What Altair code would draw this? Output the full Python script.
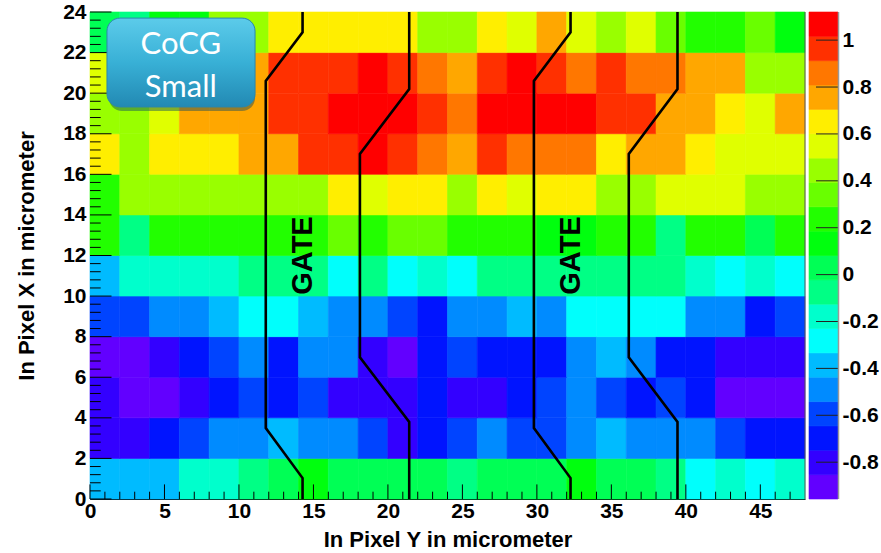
import altair as alt
import pandas as pd

# ---------------- data ----------------
# 24 columns (In Pixel Y, 2 µm wide) x 12 rows (In Pixel X, 2 µm high)
z_y00 = [-0.39, -0.39, -0.39, -0.18, -0.18, -0.07, 0.03, 0.13, 0.03, 0.03, 0.03, 0.03,
         -0.07, 0.03, 0.03, 0.03, 0.13, 0.03, 0.03, -0.07, -0.28, -0.18, -0.28, -0.18]
z_y02 = [-0.80, -0.80, -0.70, -0.59, -0.49, -0.49, -0.39, -0.49, -0.49, -0.59, -0.80, -0.70,
         -0.59, -0.49, -0.59, -0.59, -0.49, -0.39, -0.49, -0.49, -0.49, -0.59, -0.70, -0.70]
z_y04 = [-0.80, -0.90, -0.90, -0.80, -0.70, -0.59, -0.70, -0.59, -0.80, -0.80, -0.80, -0.70,
         -0.80, -0.80, -0.70, -0.59, -0.49, -0.59, -0.70, -0.59, -0.70, -0.90, -0.90, -0.90]
z_y06 = [-0.90, -0.90, -0.80, -0.70, -0.59, -0.49, -0.70, -0.49, -0.49, -0.80, -0.90, -0.70,
         -0.59, -0.70, -0.70, -0.70, -0.49, -0.39, -0.49, -0.70, -0.70, -0.80, -0.80, -0.80]
z_y08 = [-0.59, -0.59, -0.49, -0.49, -0.39, -0.28, -0.28, -0.39, -0.49, -0.49, -0.59, -0.70,
         -0.49, -0.49, -0.39, -0.49, -0.28, -0.28, -0.28, -0.28, -0.49, -0.49, -0.70, -0.59]
z_y10 = [-0.39, -0.18, -0.18, -0.18, -0.18, -0.07, -0.07, -0.07, -0.28, -0.07, -0.28, -0.18,
         -0.28, -0.07, -0.07, -0.07, -0.07, -0.07, -0.07, -0.07, -0.18, -0.28, -0.18, -0.28]
z_y12 = [0.24, -0.07, 0.24, 0.24, 0.24, 0.24, 0.24, 0.24, 0.34, 0.24, 0.34, 0.34,
         0.24, 0.24, 0.24, 0.13, 0.13, 0.24, 0.24, -0.07, 0.24, 0.24, 0.03, 0.24]
z_y14 = [0.24, 0.44, 0.44, 0.44, 0.44, 0.44, 0.44, 0.44, 0.65, 0.55, 0.65, 0.65,
         0.44, 0.65, 0.55, 0.65, 0.65, 0.44, 0.44, 0.55, 0.55, 0.55, 0.44, 0.44]
z_y16 = [0.65, 0.44, 0.65, 0.65, 0.65, 0.76, 0.76, 0.96, 0.96, 1.07, 0.96, 0.86,
         0.76, 0.96, 0.86, 0.86, 0.86, 0.65, 0.76, 0.76, 0.65, 0.55, 0.55, 0.55]
z_y18 = [0.44, 0.44, 0.55, 0.76, 0.76, 0.76, 0.96, 0.96, 1.07, 1.07, 1.07, 0.96,
         0.86, 1.07, 1.07, 1.07, 1.07, 0.96, 0.96, 0.76, 0.76, 0.65, 0.55, 0.76]
z_y20 = [0.55, 0.55, 0.55, 0.65, 0.76, 0.76, 0.96, 0.96, 0.96, 1.07, 0.96, 0.86,
         0.76, 0.96, 1.07, 0.96, 0.86, 0.96, 0.86, 0.86, 0.76, 0.76, 0.44, 0.44]
z_y22 = [0.03, -0.07, 0.13, 0.13, 0.44, 0.44, 0.65, 0.65, 0.65, 0.65, 0.65, 0.44,
         0.44, 0.65, 0.55, 0.76, 0.55, 0.44, 0.55, 0.34, 0.24, 0.24, 0.34, 0.13]
z_rows = [z_y00, z_y02, z_y04, z_y06, z_y08, z_y10,
          z_y12, z_y14, z_y16, z_y18, z_y20, z_y22]

cell_size = 2.0
z_min, z_max = -0.957, 1.12
palette = ["#6200ff", "#3300ff", "#0014ff", "#0044ff", "#008bff", "#00bbff",
           "#00fffc", "#00ffcc", "#00ff85", "#00ff55", "#00ff0e", "#22ff00",
           "#69ff00", "#99ff00", "#e0ff00", "#ffee00", "#ffa700", "#ff7700",
           "#ff3000", "#ff0000"]
cbar_ticks = [-0.8, -0.6, -0.4, -0.2, 0.0, 0.2, 0.4, 0.6, 0.8, 1.0]

x_major = [0, 5, 10, 15, 20, 25, 30, 35, 40, 45]
x_minor = [k for k in range(1, 48) if k % 5]
y_major = [0, 2, 4, 6, 8, 10, 12, 14, 16, 18, 20, 22, 24]
y_minor = [round(k * 0.4, 1) for k in range(1, 60) if k % 5]

# gate outlines (µm): each list is one polyline, bottom to top
gate1_left_x = [14.27, 14.27, 11.8, 11.8, 14.27, 14.27]
gate1_left_y = [0, 1.03, 3.5, 20.6, 23.0, 24]
gate1_right_x = [21.43, 21.43, 18.12, 18.12, 21.43, 21.43]
gate1_right_y = [0, 3.8, 6.98, 17.0, 20.2, 24]
gate2_left_x = [32.26, 32.26, 29.8, 29.8, 32.26, 32.26]
gate2_left_y = [0, 1.03, 3.5, 20.6, 23.0, 24]
gate2_right_x = [39.44, 39.44, 36.17, 36.17, 39.44, 39.44]
gate2_right_y = [0, 3.8, 6.98, 17.0, 20.2, 24]

gate_label_x = [14.27, 32.3]
gate_label_y = [12.0, 12.0]

box_x = [1.14, 11.08]
box_y = [19.32, 23.7]
box_text = ["CoCG", "Small"]
box_text_x = [6.1, 6.1]
box_text_y = [22.38, 20.26]

# ---------------- tables ----------------
cells = []
for r, row in enumerate(z_rows):
    for c, z in enumerate(row):
        cells.append({"x0": c * cell_size, "x1": (c + 1) * cell_size,
                      "y0": r * cell_size, "y1": (r + 1) * cell_size, "z": z})
df_cells = pd.DataFrame(cells)

gate_rows = []
for gid, (gx, gy) in enumerate([(gate1_left_x, gate1_left_y), (gate1_right_x, gate1_right_y),
                                 (gate2_left_x, gate2_left_y), (gate2_right_x, gate2_right_y)]):
    for i, (a, b) in enumerate(zip(gx, gy)):
        gate_rows.append({"gid": gid, "o": i, "x0": a, "y0": b})
df_gates = pd.DataFrame(gate_rows)

n_lev = len(palette)
step = (z_max - z_min) / n_lev
df_bands = pd.DataFrame({"lo": [z_min + i * step for i in range(n_lev)],
                         "hi": [z_min + (i + 1) * step for i in range(n_lev)],
                         "mid": [z_min + (i + 0.5) * step for i in range(n_lev)]})

W, H = 715, 487
FONT = "Liberation Sans"

xs = alt.Scale(domain=[0, 48], nice=False, zero=False)
ys = alt.Scale(domain=[0, 24], nice=False, zero=False)
cs = alt.Scale(type="quantize", domain=[z_min, z_max], range=palette, nice=False)
ys_bar = alt.Scale(domain=[z_min, z_max], nice=False, zero=False)

x_axis = alt.Axis(values=x_major, title="In Pixel Y in micrometer", tickSize=0,
                  labelFont=FONT, labelFontWeight="bold", labelFontSize=21,
                  labelColor="black", labelPadding=1, labelFlush=False, labelOverlap=False,
                  titleFont=FONT, titleFontWeight="bold", titleFontSize=22,
                  titleColor="black", titlePadding=8, domainColor="black",
                  domainWidth=1, grid=False)
y_axis = alt.Axis(values=y_major, title="In Pixel X in micrometer", tickSize=0,
                  labelFont=FONT, labelFontWeight="bold", labelFontSize=21,
                  labelColor="black", labelPadding=4, labelFlush=False, labelOverlap=False,
                  titleFont=FONT, titleFontWeight="bold", titleFontSize=22,
                  titleColor="black", titlePadding=24, domainColor="black",
                  domainWidth=1, grid=False)


def X(field):
    return alt.X(field, type="quantitative", scale=xs, axis=x_axis)


def Y(field):
    return alt.Y(field, type="quantitative", scale=ys, axis=y_axis)


heat = alt.Chart(df_cells).mark_rect(strokeWidth=0.6).encode(
    x=X("x0"), x2="x1:Q", y=Y("y0"), y2="y1:Q",
    color=alt.Color("z:Q", scale=cs, legend=None),
    stroke=alt.Stroke("z:Q", scale=cs, legend=None),
)

xmaj = alt.Chart(pd.DataFrame({"x0": x_major})).mark_rule(color="black", strokeWidth=1).encode(
    x=X("x0"), y=alt.value(H), y2=alt.value(H - 14.6))
xmin = alt.Chart(pd.DataFrame({"x0": x_minor})).mark_rule(color="black", strokeWidth=1).encode(
    x=X("x0"), y=alt.value(H), y2=alt.value(H - 7.3))
ymaj = alt.Chart(pd.DataFrame({"y0": y_major})).mark_rule(color="black", strokeWidth=1).encode(
    y=Y("y0"), x=alt.value(0), x2=alt.value(21.5))
ymin = alt.Chart(pd.DataFrame({"y0": y_minor})).mark_rule(color="black", strokeWidth=1).encode(
    y=Y("y0"), x=alt.value(0), x2=alt.value(10.7))

gates = alt.Chart(df_gates).mark_line(color="black", strokeWidth=2.6, strokeJoin="miter").encode(
    x=X("x0"), y=Y("y0"), detail="gid:N", order="o:Q")

gate_txt = alt.Chart(pd.DataFrame({"x0": gate_label_x, "y0": gate_label_y, "t": ["GATE", "GATE"]})).mark_text(
    angle=270, font=FONT, fontWeight="bold", fontSize=29, color="black",
    align="center", baseline="middle").encode(x=X("x0"), y=Y("y0"), text="t:N")

df_box = pd.DataFrame({"x0": [box_x[0]], "x1": [box_x[1]], "y0": [box_y[0]], "y1": [box_y[1]]})
box_shadow = alt.Chart(df_box).mark_rect(cornerRadius=13, color="#0d4a60", opacity=0.45,
                                         xOffset=2, yOffset=4).encode(
    x=X("x0"), x2="x1:Q", y=Y("y0"), y2="y1:Q")
box = alt.Chart(df_box).mark_rect(
    cornerRadius=13, stroke="#2b87ab", strokeWidth=1,
    fill={"gradient": "linear", "x1": 0, "y1": 0, "x2": 0, "y2": 1,
          "stops": [{"offset": 0, "color": "#5ccbea"},
                    {"offset": 0.5, "color": "#38b0d6"},
                    {"offset": 1, "color": "#2289b3"}]}).encode(
    x=X("x0"), x2="x1:Q", y=Y("y0"), y2="y1:Q")
box_lbl = alt.Chart(pd.DataFrame({"x0": box_text_x, "y0": box_text_y, "t": box_text})).mark_text(
    font="Lato", fontSize=31, color="white", align="center", baseline="middle").encode(
    x=X("x0"), y=Y("y0"), text="t:N")

right_edge = alt.Chart(pd.DataFrame({"x0": [48]})).mark_rule(color="#555555", strokeWidth=1).encode(
    x=X("x0"), y=alt.value(0), y2=alt.value(H))

main = alt.layer(heat, xmin, xmaj, ymin, ymaj, right_edge, gates, gate_txt,
                 box_shadow, box, box_lbl)

# ---------------- colour bar ----------------
bar_axis = alt.Axis(orient="right", offset=33, values=cbar_ticks, tickSize=0, domain=False,
                    grid=False, title=None, labelFont=FONT, labelFontWeight="bold",
                    labelFontSize=21, labelColor="black", labelPadding=4,
                    labelFlush=False, labelOverlap=False,
                    labelExpr="datum.value < 0 ? '-' + format(-datum.value, '.1~f') : format(datum.value, '.1~f')")


def YB(field):
    return alt.Y(field, type="quantitative", scale=ys_bar, axis=bar_axis)


bar = alt.Chart(df_bands).mark_rect(strokeWidth=0.6).encode(
    x=alt.value(719), x2=alt.value(748),
    y=YB("lo"), y2="hi:Q",
    color=alt.Color("mid:Q", scale=cs, legend=None),
    stroke=alt.Stroke("mid:Q", scale=cs, legend=None))
bar_ticks = alt.Chart(pd.DataFrame({"lo": cbar_ticks})).mark_rule(color="#222222", strokeWidth=1).encode(
    y=YB("lo"), x=alt.value(726), x2=alt.value(748))
bar_edge = alt.Chart(pd.DataFrame({"lo": [z_min]})).mark_rule(color="#999999", strokeWidth=1.5).encode(
    y=YB("lo"), y2=alt.value(0), x=alt.value(748.5))
cbar = alt.layer(bar, bar_ticks, bar_edge)

chart = alt.layer(main, cbar).resolve_scale(y="independent").properties(
    width=W, height=H,
    autosize=alt.AutoSizeParams(type="none"),
    padding={"left": 90, "top": 12, "right": 76, "bottom": 54},
    background="white",
).configure_view(strokeWidth=0)

chart.save("out.html", embed_options={"renderer": "svg", "actions": False})
